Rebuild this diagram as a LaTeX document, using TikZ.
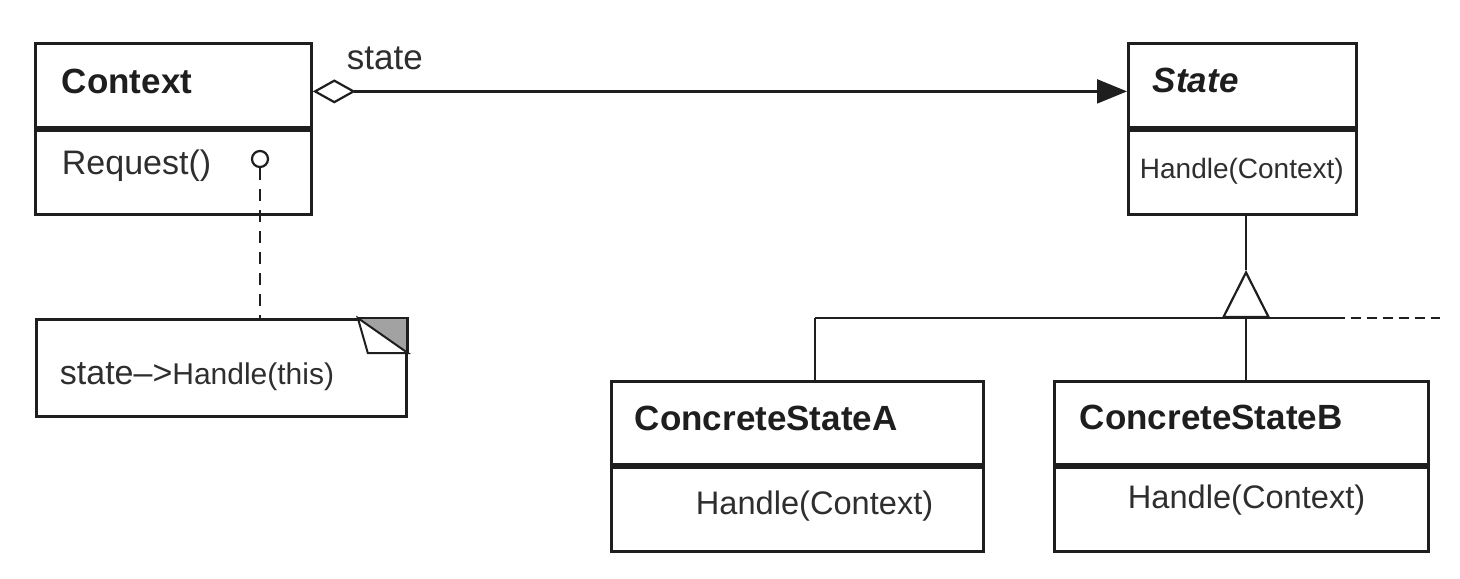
\documentclass[tikz,border=0pt]{standalone}
\usepackage{fontspec}
\setmainfont{Liberation Sans}
\usetikzlibrary{arrows.meta}
\definecolor{ink}{HTML}{1E1E1E}
\definecolor{txt}{HTML}{2E2E2E}
\definecolor{fold}{HTML}{A2A2A2}

\begin{document}
\begin{tikzpicture}[x=0.5pt,y=0.5pt,yscale=-1,xscale=1,
  box/.style={draw=ink,line width=1.4pt,rectangle,inner sep=0pt,anchor=north west},
  lbl/.style={anchor=west,inner sep=0.75pt,text=txt,font=\fontsize{17}{20}\selectfont},
  cname/.style={lbl,text=ink,font=\fontsize{17.5}{20}\selectfont\bfseries},
  conn/.style={draw=ink,line width=1.1pt}]
\path (0,0) rectangle (1460,578); %set diagram size to the reference

%Shape: Class Context
\node[box,minimum width=138pt,minimum height=42pt] (ctxtop) at (34,42) {};
\node[box,minimum width=138pt,minimum height=42pt] (ctxbody) at (ctxtop.south west) {};
%Shape: Class State
\node[box,minimum width=114pt,minimum height=42pt] (statetop) at (1127,42) {};
\node[box,minimum width=114pt,minimum height=42pt] (statebody) at (statetop.south west) {};
%Shape: Class ConcreteStateA
\node[box,minimum width=186pt,minimum height=41.5pt] (csatop) at (610,380) {};
\node[box,minimum width=186pt,minimum height=42pt] (csabody) at (csatop.south west) {};
%Shape: Class ConcreteStateB
\node[box,minimum width=187pt,minimum height=41.5pt] (csbtop) at (1053,380) {};
\node[box,minimum width=187pt,minimum height=42pt] (csbbody) at (csbtop.south west) {};
%Shape: Note
\node[box,minimum width=185pt,minimum height=48.5pt] (note) at (35,318) {};
\fill[fold] ([xshift=-25pt]note.north east) -- (note.north east) -- ([yshift=17.5pt]note.north east) -- cycle;
\draw[ink,line width=1pt] ([xshift=-25pt]note.north east) -- ([xshift=-20pt,yshift=17.5pt]note.north east) -- ([yshift=17.5pt]note.north east) -- cycle;
\draw[ink,line width=1.4pt] ([xshift=-25pt]note.north east) -- (note.north east) -- ([yshift=17.5pt]note.north east);

% Text Node
\node[cname] (ctxname) at (60,81) {Context};
% Text Node
\node[lbl] (request) at (60,166) {Request()};
% Text Node
\node[cname,font=\fontsize{17.5}{20}\selectfont\bfseries\itshape] (statename) at (1151,80) {State};
% Text Node
\node[lbl,font=\fontsize{14}{17}\selectfont] (statehandle) at (1138,171) {Handle(Context)};
% Text Node
\node[cname] (csaname) at (633,418) {ConcreteStateA};
% Text Node
\node[lbl,font=\fontsize{16.3}{19}\selectfont] (csahandle) at (694,506) {Handle(Context)};
% Text Node
\node[cname] (csbname) at (1078,417) {ConcreteStateB};
% Text Node
\node[lbl,font=\fontsize{16.3}{19}\selectfont] (csbhandle) at (1126,500) {Handle(Context)};
% Text Node
\node[lbl] (notetext) at (58,377) {state--{>}\fontsize{15}{18}\selectfont Handle(this)};
% Text Node
\node[lbl,font=\fontsize{17.5}{20}\selectfont] (rolename) at (345,58) {state};

%Shape: Circle
\node[draw=ink,circle,line width=1.1pt,minimum size=8pt,inner sep=0pt,fill=white] (hook) at (260,159) {};

%Straight Lines: aggregation
\draw[conn,{Diamond[open,length=21.5pt,width=12pt,line width=1.1pt]}-{Triangle[length=15pt,width=12pt]}] ([yshift=3pt]ctxtop.east) -- ([yshift=3pt]statetop.west);
%Straight Lines: note link
\draw[conn,dash pattern=on 6pt off 4.5pt] (hook.south) -- (hook.south |- note.north);

%Straight Lines: inheritance
\coordinate (hub) at (1246,318);
\coordinate (tip) at (1246,270);
\coordinate (busA) at (815,318);
\coordinate (busend) at (1335,318);
\coordinate (busmore) at (1440,318);
\draw[conn,-{Triangle[open,length=24pt,width=24pt,line width=1.1pt]}] (hub) -- (tip);
\draw[conn] (tip) -- (tip |- statebody.south);
\draw[conn] (busA) -- (busend);
\draw[conn,dash pattern=on 5pt off 3pt] (busend) -- (busmore);
\draw[conn] (busA) -- (busA |- csatop.north);
\draw[conn] (hub) -- (hub |- csbtop.north);

\end{tikzpicture}
\end{document}
